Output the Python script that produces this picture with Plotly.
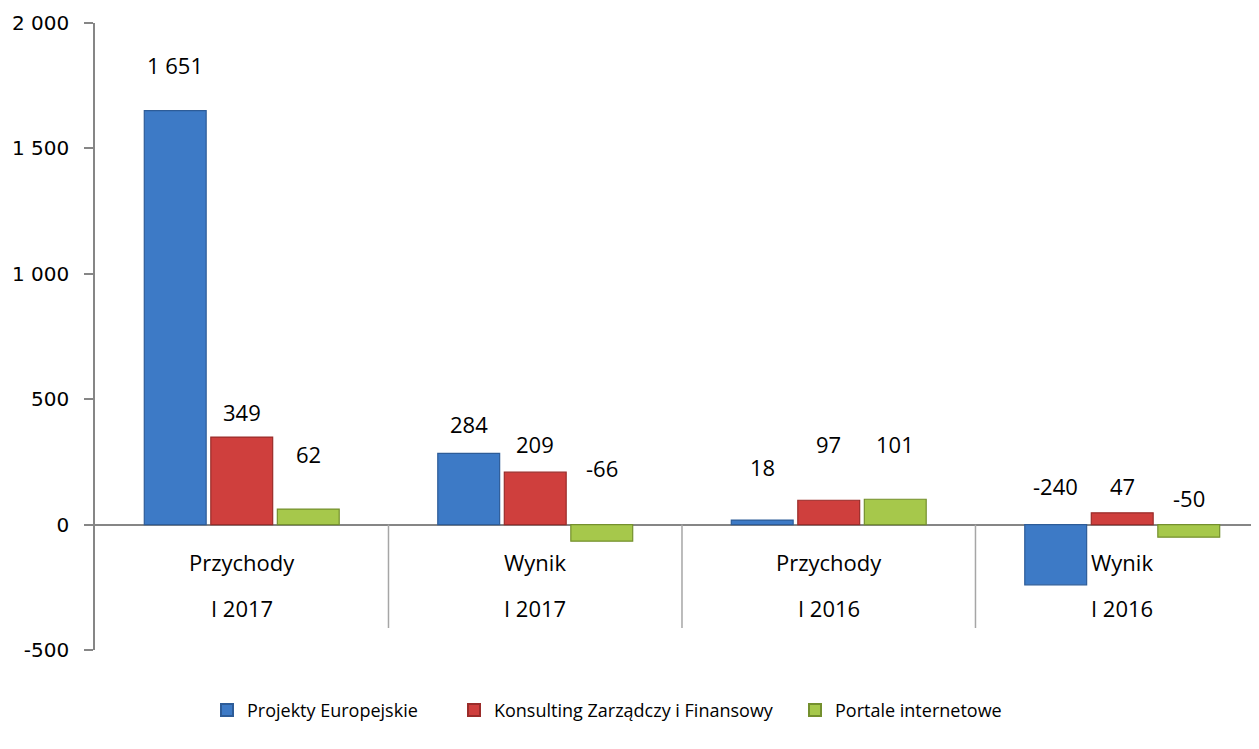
import plotly.graph_objects as go

categories = ["Przychody", "Wynik", "Przychody", "Wynik"]
periods = ["I 2017", "I 2017", "I 2016", "I 2016"]
series_names = ["Projekty Europejskie", "Konsulting Zarządczy i Finansowy", "Portale internetowe"]
projekty = [1651, 284, 18, -240]
konsulting = [349, 209, 97, 47]
portale = [62, -66, 101, -50]
y_ticks = [-500, 0, 500, 1000, 1500, 2000]

# style
colors = ["#3D7AC6", "#CF3F3D", "#A6C84B"]
edges = ["#2D5C98", "#9A2C2A", "#74902E"]
label_shift = [[46, 29, 53, 39], [25, 28, 56, 27], [55, 57, 55, 27]]
font_lbl = "Open Sans"
BARGAP = 0.32
GROUPGAP = 0.07

series = [projekty, konsulting, portale]
xs = list(range(len(categories)))

fig = go.Figure()
legends = ["legend", "legend2", "legend3"]
for i, (name, vals) in enumerate(zip(series_names, series)):
    fig.add_trace(go.Bar(
        x=xs, y=vals, name=name,
        marker=dict(color=colors[i], line=dict(color=edges[i], width=1.2)),
        legend=legends[i], showlegend=True, hoverinfo="y+name",
    ))

def fmt(v):
    s = f"{abs(v):,}".replace(",", " ")
    return ("-" if v < 0 else "") + s

slot = (1 - BARGAP) / len(series)
ann = []
for i, vals in enumerate(series):
    for j, v in enumerate(vals):
        ann.append(dict(
            x=j + (i - 1) * slot, y=max(v, 0), xref="x", yref="y",
            text=fmt(v), showarrow=False, yshift=label_shift[i][j],
            font=dict(family=font_lbl, size=22, color="#000000"),
            xanchor="center", yanchor="middle",
        ))
for j, (c, p) in enumerate(zip(categories, periods)):
    ann.append(dict(x=j, y=0, xref="x", yref="y", text=c, showarrow=False,
                    yshift=-37, font=dict(family=font_lbl, size=22, color="#000000"),
                    yanchor="middle"))
    ann.append(dict(x=j, y=0, xref="x", yref="y", text=p, showarrow=False,
                    yshift=-83, font=dict(family=font_lbl, size=22, color="#000000"),
                    yanchor="middle"))

shapes = []
for j in range(len(categories) - 1):
    shapes.append(dict(type="line", xref="x", yref="paper",
                       x0=j + 0.5, x1=j + 0.5, y0=0.0351, y1=0.2,
                       line=dict(color="#A6A6A6", width=1.5)))

leg_x = [0.0962, 0.3084, 0.6014]
leg_common = dict(orientation="h", yanchor="middle", y=-0.096, xanchor="left",
                  font=dict(family=font_lbl, size=18, color="#000000"),
                  bgcolor="rgba(0,0,0,0)", itemsizing="constant")

fig.update_layout(
    width=1251, height=741,
    margin=dict(l=87, r=0, t=15, b=99, autoexpand=False),
    paper_bgcolor="white", plot_bgcolor="white",
    barmode="group", bargap=BARGAP, bargroupgap=GROUPGAP,
    annotations=ann, shapes=shapes,
    legend=dict(x=leg_x[0], **leg_common),
    legend2=dict(x=leg_x[1], **leg_common),
    legend3=dict(x=leg_x[2], **leg_common),
    xaxis=dict(range=[-0.5, 3.466], showticklabels=False, showgrid=False,
               zeroline=False, showline=False, ticks="", automargin=False),
    yaxis=dict(range=[-500, 2000], tickvals=y_ticks, ticktext=[fmt(t) for t in y_ticks],
               showgrid=False, showline=True, linecolor="#868686",
               linewidth=1.5, ticks="outside", ticklen=9, tickcolor="#868686",
               tickwidth=1.5, zeroline=True, zerolinecolor="#868686", zerolinewidth=1.5,
               tickfont=dict(family="DejaVu Sans", size=20, color="#000000"),
               ticklabelstandoff=11, automargin=False),
)

fig.write_html("out.html")
